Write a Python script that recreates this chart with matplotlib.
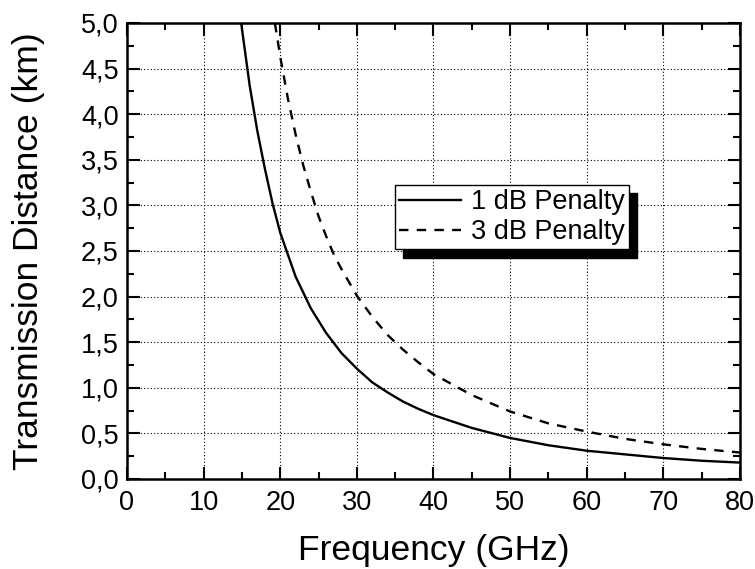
import matplotlib
matplotlib.use("Agg")
import matplotlib.pyplot as plt
from matplotlib.ticker import MultipleLocator, FuncFormatter

plt.rcParams['font.family'] = ['Liberation Sans', 'DejaVu Sans']

freq_1db = [14.9, 16, 17, 18, 19, 20, 22, 24, 26, 28, 30, 32, 34, 36, 38, 40,
            45, 50, 55, 60, 65, 70, 75, 80]
dist_1db = [5.0, 4.32, 3.82, 3.40, 3.02, 2.70, 2.22, 1.87, 1.60, 1.38, 1.21,
            1.06, 0.95, 0.85, 0.77, 0.70, 0.56, 0.45, 0.37, 0.31, 0.27, 0.23,
            0.20, 0.18]

freq_3db = [19.3, 20, 21, 22, 23, 24, 25, 26, 27, 28, 30, 32, 34, 35, 36, 38, 40,
            45, 50, 55, 60, 65, 70, 75, 80]
dist_3db = [5.0, 4.63, 4.17, 3.78, 3.44, 3.15, 2.88, 2.66, 2.46, 2.30, 2.01,
            1.78, 1.58, 1.50, 1.42, 1.28, 1.15, 0.92, 0.74, 0.61, 0.52, 0.44,
            0.38, 0.33, 0.29]

labels = ["1 dB Penalty", "3 dB Penalty"]

fig = plt.figure(figsize=(7.55, 5.69), dpi=100)
ax = fig.add_axes([127/755, 1 - 479/569, 613/755, 456/569])

ax.plot(freq_1db, dist_1db, color='black', lw=1.7, ls='-', label=labels[0])
ax.plot(freq_3db, dist_3db, color='black', lw=1.7, ls=(0, (4, 3.5)), label=labels[1])

ax.set_xlim(0, 80)
ax.set_ylim(0, 5)
ax.xaxis.set_major_locator(MultipleLocator(10))
ax.xaxis.set_minor_locator(MultipleLocator(5))
ax.yaxis.set_major_locator(MultipleLocator(0.5))
ax.yaxis.set_minor_locator(MultipleLocator(0.25))
ax.yaxis.set_major_formatter(FuncFormatter(lambda v, p: f"{v:.1f}".replace('.', ',')))
ax.tick_params(which='both', direction='in', top=True, right=True, width=1.5,
               labelsize=19.5, colors='black')
ax.tick_params(which='major', length=9)
ax.tick_params(which='minor', length=5)
ax.tick_params(axis='x', which='major', pad=8)
ax.tick_params(axis='y', which='major', pad=6)
for s in ax.spines.values():
    s.set_linewidth(1.8)

ax.grid(True, which='major', color='black', ls=(0, (1, 2)), lw=0.8)

ax.set_xlabel("Frequency (GHz)", fontsize=25.5, labelpad=13)
ax.set_ylabel("Transmission Distance (km)", fontsize=25.5, labelpad=26)

leg = ax.legend(loc='upper left', bbox_to_anchor=((395-127)/613, (479-185)/456),
                fontsize=19.5, frameon=True, fancybox=False, edgecolor='black',
                framealpha=1, borderpad=0.15, labelspacing=0.15, handlelength=2.3,
                handletextpad=0.35, borderaxespad=0,
                shadow={'color': 'black', 'alpha': 1, 'ox': 6, 'oy': -6})
leg.get_frame().set_linewidth(1.0)

fig.savefig("out.png", dpi=100)
